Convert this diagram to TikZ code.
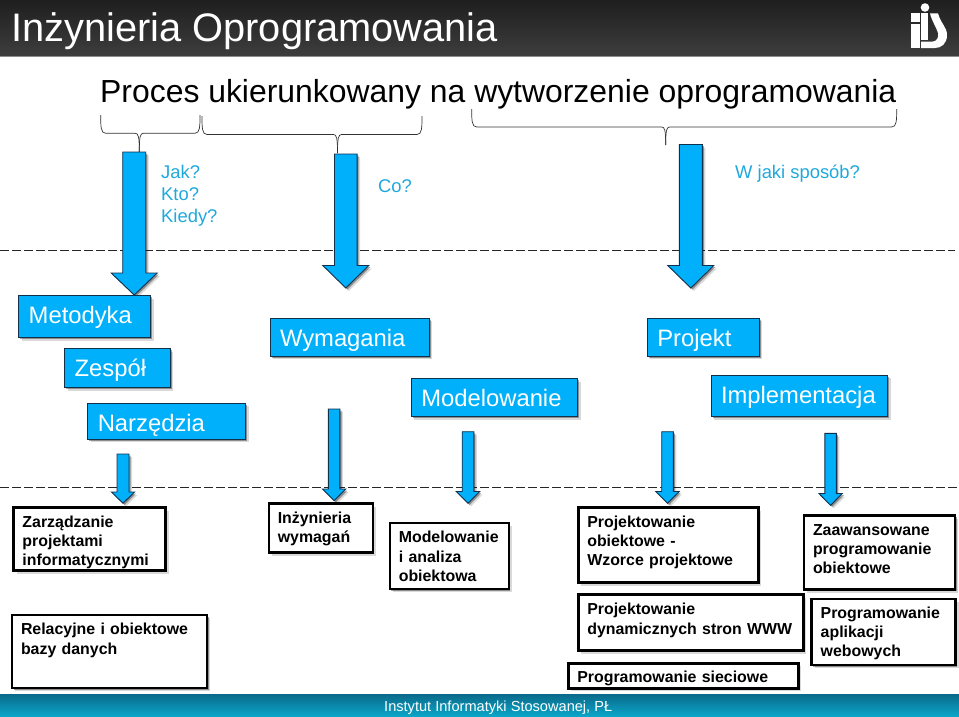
\documentclass[tikz,border=0pt]{standalone}
\usepackage{fontspec}
\setmainfont{Liberation Sans}
\usetikzlibrary{shadows}

\definecolor{skyblue}{HTML}{00B0FB}
\definecolor{navyline}{HTML}{10304C}
\definecolor{asktext}{HTML}{1FA8DC}
\definecolor{footertop}{HTML}{0A6A8A}
\definecolor{footerlow}{HTML}{0AA5C8}

\begin{document}
\begin{tikzpicture}[
  x=1pt, y=-1pt,
  soft shadow/.style = {drop shadow={shadow xshift=3pt, shadow yshift=-3pt, opacity=0.15, fill=black},
                        drop shadow={shadow xshift=1.6pt, shadow yshift=-1.6pt, opacity=0.35, fill=black}},
  blue arrow/.style  = {fill=skyblue, draw=navyline, line width=0.9pt, line join=miter, soft shadow},
  brace line/.style  = {draw=black!80, line width=0.7pt},
  cut line/.style    = {draw=black!85, line width=0.8pt, dash pattern=on 9pt off 3pt},
  ask text/.style    = {anchor=base west, inner sep=0pt, text=asktext, align=left,
                        font=\fontsize{18.4}{22}\selectfont},
  blue box/.style    = {anchor=base west, rectangle, fill=skyblue, draw=navyline, line width=0.9pt,
                        inner xsep=10pt, inner ysep=0pt, outer sep=0pt, text=white, align=left,
                        font=\fontsize{23.8}{28}\selectfont, soft shadow},
  course box/.style  = {anchor=base west, rectangle, fill=white, draw=black, line width=2.6pt,
                        inner xsep=9pt, inner ysep=0pt, outer sep=0pt, text=black, align=left,
                        font=\fontsize{15.9}{19.3}\selectfont\bfseries, soft shadow},
  box size/.style n args = {3}{text width=#1pt-2*\pgfkeysvalueof{/pgf/inner xsep},
                               text height=#2pt, text depth=#3pt},
]
\useasboundingbox (0,0) rectangle (959,716);

% ── Header and footer ──────────────────────────────────────────────────────
\shade[top color=black!88, bottom color=black!76] (0,0) rectangle (959,55.5);
\fill[black!45] (0,55.5) rectangle (959,57);
\shade[top color=footertop, bottom color=footerlow] (0,694) rectangle (959,716);

\node (title) [anchor=base west, inner sep=0pt, text=white, font=\fontsize{39.8}{44}\selectfont]
  at (11,41) {Inżynieria Oprogramowania};
\node (footer) [anchor=base west, inner sep=0pt, text=white, font=\fontsize{14.6}{18}\selectfont]
  at (384,711) {Instytut Informatyki Stosowanej, PŁ};

% Logo
\fill[white] (925,7.5) circle (4.3);
\fill[white] (910.7,13.3) rectangle (920,21.7);
\fill[white] (911,23.5) rectangle (920,48);
\fill[white] (921,13.3) rectangle (928.3,40);
\fill[white] (930,13.3) -- (938,13.3) .. controls (941,24) and (947,27) .. (947,35)
  .. controls (947,44) and (941,48) .. (935,48) -- (921,48) -- (921,41.7) -- (932,41.7)
  .. controls (937,41.7) and (939,37) .. (938,33) .. controls (936,26) and (932,22) .. cycle;

% ── Process sentence and its braces ────────────────────────────────────────
\node (process) [anchor=base west, inner sep=0pt, font=\fontsize{31.9}{37}\selectfont]
  at (100,102) {Proces ukierunkowany na wytworzenie oprogramowania};

% left, right, tip x; top, bar, tip y
\foreach \xa/\xb/\xm/\yt/\yb/\ye in {100.7/200/139.3/115/133.3/152,
                                     202/422/337.5/116/134.5/153,
                                     471.7/896.7/665.7/109/127/145} {
  \draw[brace line] (\xa,\yt) .. controls (\xa,\yb-7) and (\xa,\yb) .. (\xa+5,\yb) -- (\xm-4,\yb)
    .. controls (\xm-1,\yb) and (\xm,\yb+3) .. (\xm,\ye);
  \draw[brace line] (\xb,\yt) .. controls (\xb,\yb-7) and (\xb,\yb) .. (\xb-5,\yb) -- (\xm+4,\yb)
    .. controls (\xm+1,\yb) and (\xm,\yb+3) .. (\xm,\ye);
}

\node (how) [ask text] at (161,222) {Jak?\\Kto?\\Kiedy?};
\node (what) [ask text] at (378,192) {Co?};
\node (means) [ask text] at (735,178) {W jaki sposób?};

% ── Dashed separators ──────────────────────────────────────────────────────
\draw[cut line] (0,250) -- (955,250);
\draw[cut line] (0,487.7) -- (959,487.7);

% ── Block arrows ───────────────────────────────────────────────────────────
% centre x; shaft half-width, head half-width; top, head, tip y
\foreach \xc/\sw/\hw/\yt/\yh/\ye in {134.2/11.5/23/152/273/295,
                                     345.8/11.3/23/154/265.5/288,
                                     690.8/11.5/23/144.5/265.5/288,
                                     123/6/11.5/454/492/503.3,
                                     334.1/5.8/11.7/409/489/500.7,
                                     468/5.8/11.7/431.7/491.5/503.3,
                                     667.5/5.8/11.7/431.7/491.5/503.3,
                                     830.6/5.7/11.7/433.3/493.5/505.3} {
  \draw[blue arrow] (\xc-\sw,\yt) -- (\xc+\sw,\yt) -- (\xc+\sw,\yh) -- (\xc+\hw,\yh)
    -- (\xc,\ye) -- (\xc-\hw,\yh) -- (\xc-\sw,\yh) -- cycle;
}

% ── Topic boxes ────────────────────────────────────────────────────────────
% placed at the first baseline: width, height above it, depth below it
\node (metodyka) [blue box, box size={132}{27.3}{14.7}] at (18.7,323) {Metodyka};
\node (zespol) [blue box, box size={105.5}{27.2}{11.8}] at (64.7,376) {Zespół};
\node (narzedzia) [blue box, box size={158}{27.7}{8.3}] at (87.8,431) {Narzędzia};
\node (wymagania) [blue box, box size={159}{27.7}{10.3}] at (270,346) {Wymagania};
\node (modelowanie) [blue box, box size={166.4}{28}{10}] at (411.3,406.7) {Modelowanie};
\node (projekt) [blue box, box size={111.7}{27.7}{10.3}] at (647.3,346) {Projekt};
\node (implementacja) [blue box, box size={176.7}{28}{13.4}] at (711,403.3) {Implementacja};

% ── Course boxes ───────────────────────────────────────────────────────────
\node (zarzadzanie) [course box, box size={152}{19.3}{43.7}] at (13.5,527)
  {Zarządzanie\\projektami\\informatycznymi};
\node (inzynieria) [course box, box size={104}{19.6}{29.4}] at (268.8,523.3)
  {Inżynieria\\wymagań};
\node (analiza) [course box, box size={119}{19.7}{46.3}] at (389.8,542.7)
  {Modelowanie\\i analiza\\obiektowa};
\node (wzorce) [course box, box size={180}{19.3}{55.7}] at (578.3,527)
  {Projektowanie\\obiektowe -\\Wzorce projektowe};
\node (zaawansowane) [course box, box size={151}{19.6}{54.4}] at (804,535.3)
  {Zaawansowane\\programowanie\\obiektowe};
\node (bazy) [course box, box size={195}{19.7}{53.3}] at (12,634.7)
  {Relacyjne i obiektowe\\bazy danych};
\node (dynamiczne) [course box, box size={225}{20}{36}] at (578.3,614.7)
  {Projektowanie\\dynamicznych stron WWW};
\node (sieciowe) [course box, box size={230}{19.4}{5.6}] at (568.3,682.7)
  {Programowanie sieciowe};
\node (webowe) [course box, box size={144}{19}{47}] at (811.7,618)
  {Programowanie\\aplikacji\\webowych};

\end{tikzpicture}
\end{document}
